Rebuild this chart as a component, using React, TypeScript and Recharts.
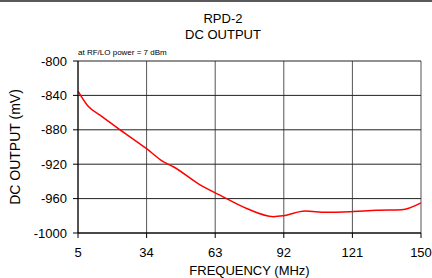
import { LineChart, Line, XAxis, YAxis, CartesianGrid } from "recharts";

const freq = [5, 9.4, 14.3, 22.8, 34, 41, 45.3, 56.6, 65, 76.3, 87.6, 91.8, 101, 110, 121.4, 131.3, 141.8, 150];
const dcOut = [-835, -853, -863, -880, -902, -917, -923, -944, -956, -971.5, -981, -980, -974.5, -976, -975, -973.5, -973, -965];
const xTicks = [5, 34, 63, 92, 121, 150];
const yTicks = [-1000, -960, -920, -880, -840, -800];

const data = freq.map((f, i) => ({ f, v: dcOut[i] }));

const font = "'Liberation Sans', Arial, sans-serif";

export default function App() {
  return (
    <div style={{ position: "absolute", left: 0, top: 0, width: 432, height: 278, background: "#fff", fontFamily: font }}>
      <div style={{ position: "absolute", left: 0, top: 0, width: 432, height: 2, background: "#5a5a5a" }} />
      <div style={{ position: "absolute", left: 123, width: 200, top: 11, textAlign: "center", fontSize: 13, lineHeight: "16px", color: "#000" }}>
        RPD-2
        <br />
        DC OUTPUT
      </div>
      <div style={{ position: "absolute", left: 78, top: 48, fontSize: 8, color: "#000", whiteSpace: "nowrap" }}>
        at RF/LO power = 7 dBm
      </div>
      <LineChart width={432} height={278} data={data} margin={{ top: 61, right: 11, left: 0, bottom: 0 }}>
        <CartesianGrid horizontal={false} stroke="#555" strokeOpacity={1} />
        <CartesianGrid vertical={false} stroke="#222" strokeOpacity={1} />
        <XAxis
          dataKey="f"
          type="number"
          domain={[5, 150]}
          ticks={xTicks}
          height={45}
          stroke="#000"
          tickSize={5}
          tickMargin={10}
          tick={{ fill: "#000", fontSize: 13, fontFamily: font }}
          label={{ value: "FREQUENCY (MHz)", position: "insideBottom", offset: 3, fill: "#000", fontSize: 13, fontFamily: font }}
        />
        <YAxis
          type="number"
          domain={[-1000, -800]}
          ticks={yTicks}
          width={78}
          stroke="#000"
          tickSize={5}
          tickMargin={6}
          tick={{ fill: "#000", fontSize: 13, fontFamily: font }}
          label={{ value: "DC OUTPUT (mV)", angle: -90, position: "insideLeft", offset: 15, style: { textAnchor: "middle" }, fill: "#000", fontSize: 14, fontFamily: font }}
        />
        <Line type="monotone" dataKey="v" stroke="#ff0000" strokeWidth={1.5} dot={false} isAnimationActive={false} />
      </LineChart>
    </div>
  );
}
